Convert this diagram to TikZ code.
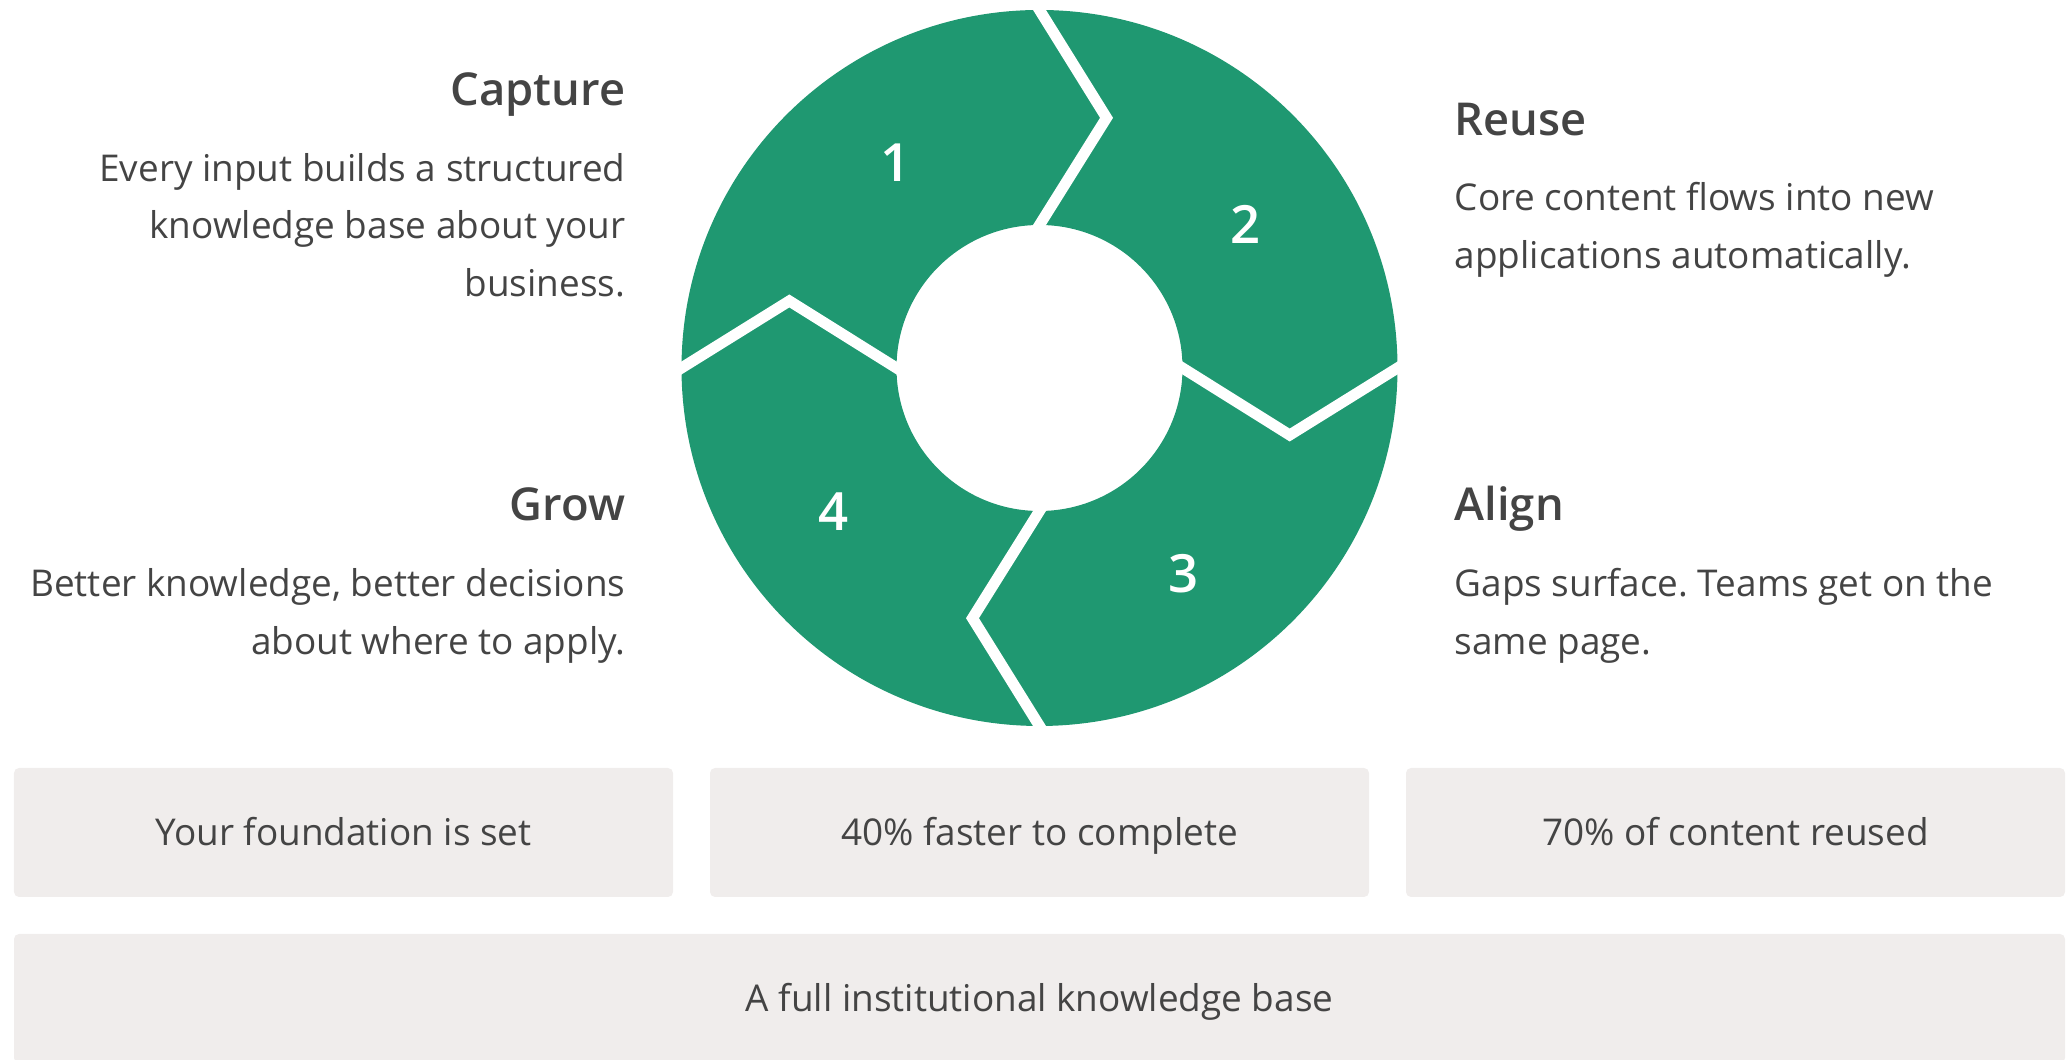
\documentclass[tikz,border=0pt]{standalone}
\usepackage{fontspec}
\setmainfont{Open Sans}
\IfFontExistsTF{Open Sans SemiBold}{\newfontfamily\headfont{Open Sans SemiBold}}{%
  \IfFontExistsTF{Open Sans Semibold}{\newfontfamily\headfont{Open Sans Semibold}}{%
    \newcommand\headfont{\bfseries}}}
\usetikzlibrary{calc}
\definecolor{ring}{RGB}{31,152,113}
\definecolor{ink}{RGB}{68,68,68}
\definecolor{paper}{RGB}{240,237,236}
\frenchspacing

\begin{document}
\begin{tikzpicture}
  [every node/.style={inner sep=0pt,text=ink},
   head/.style={font=\fontsize{12.9}{15}\selectfont\headfont},
   body/.style={font=\fontsize{10.5}{16.5}\selectfont},
   num/.style={text=white,font=\fontsize{15}{18}\selectfont\headfont},
   box/.style={fill=paper,rounded corners=0.05cm,minimum width=6.59cm,
     minimum height=1.29cm,text height=0.27cm,text depth=0pt,
     font=\fontsize{10.5}{16.5}\selectfont}]

  \useasboundingbox (0,0) rectangle (20.70,10.60);

  % the ring
  \coordinate (O) at (10.395,6.92);
  \fill[ring,even odd rule] (O) circle (3.58) (O) circle (1.43);
  \foreach \a in {90,0,-90,-180} {
    \coordinate (t) at ($(O)+(\a-15:2.59)$);
    \coordinate (o) at ($(O)+(\a:3.58)$);
    \coordinate (i) at ($(O)+(\a:1.43)$);
    \draw[white,line width=0.11cm,line join=miter]
      ($(t)!1.15!(o)$) -- (t) -- ($(t)!1.15!(i)$);
  }
  \foreach \n/\a in {1/125,2/35,3/-55,4/-145}
    \node[num] (N\n) at ($(O)+(\a:2.51)$) {\n};

  % left side (body nodes sit on their last line)
  \node[head,anchor=base east] (Cap) at (6.26,9.54) {Capture};
  \node[body,anchor=base east,align=right] (CapT) at (6.26,7.63)
    {Every input builds a structured\\knowledge base about your\\business.};
  \node[head,anchor=base east] (Gro) at (6.26,5.39) {Grow};
  \node[body,anchor=base east,align=right] (GroT) at (6.26,4.05)
    {Better knowledge, better decisions\\about where to apply.};

  % right side
  \node[head,anchor=base west] (Reu) at (14.54,9.24) {Reuse};
  \node[body,anchor=base west,align=left] (ReuT) at (14.54,7.91)
    {Core content flows into new\\applications automatically.};
  \node[head,anchor=base west] (Ali) at (14.54,5.39) {Align};
  \node[body,anchor=base west,align=left] (AliT) at (14.54,4.05)
    {Gaps surface. Teams get on the\\same page.};

  % outcomes
  \node[box] (B1) at (3.435,2.275) {Your foundation is set};
  \node[box] (B2) at (10.395,2.275) {40\% faster to complete};
  \node[box] (B3) at (17.355,2.275) {70\% of content reused};
  \node[box,minimum width=20.51cm] (B4) at (10.395,0.615)
    {A full institutional knowledge base};
\end{tikzpicture}
\end{document}
